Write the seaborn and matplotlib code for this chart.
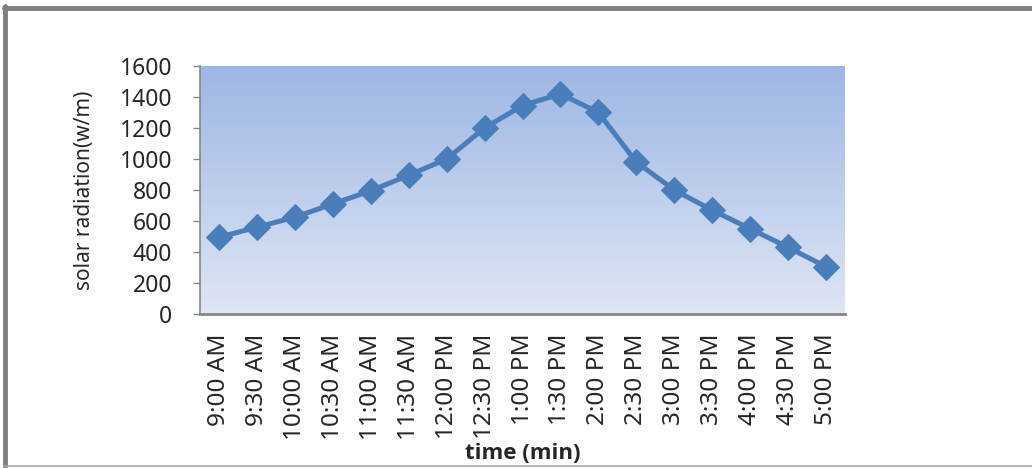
import numpy as np
import pandas as pd
import seaborn as sns
import matplotlib.pyplot as plt
from matplotlib.lines import Line2D

times = ["9:00 AM", "9:30 AM", "10:00 AM", "10:30 AM", "11:00 AM", "11:30 AM",
         "12:00 PM", "12:30 PM", "1:00 PM", "1:30 PM", "2:00 PM", "2:30 PM",
         "3:00 PM", "3:30 PM", "4:00 PM", "4:30 PM", "5:00 PM"]
radiation = [495, 560, 625, 710, 795, 895, 1000, 1200, 1345, 1420,
             1300, 980, 800, 670, 550, 430, 305]

df = pd.DataFrame({"time": times, "radiation": radiation})
df["pos"] = range(len(df))

sns.set_style("white")
plt.rcParams["font.family"] = ["Noto Sans", "DejaVu Sans"]

fig = plt.figure(figsize=(10.32, 4.68), dpi=100)
ax = fig.add_axes([0.1938, 0.329, 0.625, 0.53])

# gradient fill of the plot area
grad = np.linspace(0, 1, 256).reshape(-1, 1)
top = np.array([0x9D, 0xB6, 0xE4]) / 255
bot = np.array([0xDF, 0xE6, 0xF4]) / 255
img = top * (1 - grad[..., None]) + bot * grad[..., None]
ax.imshow(img, extent=[0, 1, 0, 1], transform=ax.transAxes, aspect="auto", zorder=0)

sns.lineplot(data=df, x="pos", y="radiation", ax=ax, color="#4A7EBB", linewidth=3.6,
             marker="D", markersize=13, markeredgecolor="#4A7EBB", zorder=3)

ax.set_xlim(-0.5, len(times) - 0.5)
ax.set_ylim(0, 1600)
ax.set_yticks(range(0, 1601, 200))
ax.set_xticks(df["pos"])
ax.set_xticklabels(times, rotation=90, fontsize=17.5)
ax.tick_params(axis="y", labelsize=16.5, length=5, width=1, color="#868686",
               direction="out", left=True, pad=15)
ax.tick_params(axis="x", length=0, pad=14)

for s in ["top", "right"]:
    ax.spines[s].set_visible(False)
ax.spines["left"].set_color("#868686")
ax.spines["left"].set_linewidth(1.2)
ax.spines["bottom"].set_color("#868686")
ax.spines["bottom"].set_linewidth(2)

ax.set_ylabel("solar radiation(w/m)", fontsize=15, labelpad=18)
ax.set_xlabel("time (min)", fontsize=16, fontweight="bold", labelpad=2,
              family=["Open Sans", "DejaVu Sans"])

# outer frame
fig.add_artist(Line2D([0.004, 1.0], [1 - 7.5 / 468, 1 - 7.5 / 468], color="#808080", linewidth=3.5))
fig.add_artist(Line2D([5 / 1032, 5 / 1032], [1 - 6 / 468, 2 / 468], color="#808080", linewidth=3.5))
fig.add_artist(Line2D([0.004, 1.0], [2 / 468, 2 / 468], color="#A6A6A6", linewidth=1.2))

fig.savefig("out.png", dpi=100)
